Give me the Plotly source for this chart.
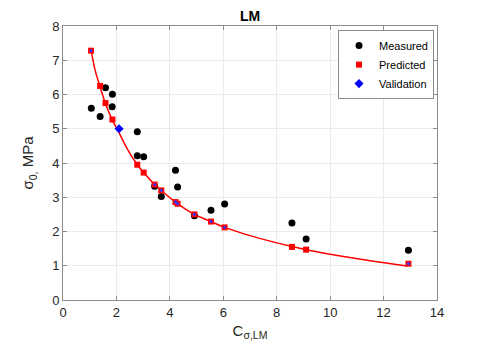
import plotly.graph_objects as go

# values
measured_x = [1.06, 1.39, 1.59, 1.85, 1.84, 2.78, 2.78, 3.02, 3.43, 3.68, 4.21, 4.29, 4.92, 5.54, 6.05, 8.57, 9.10, 12.93]
measured_y = [5.60, 5.36, 6.20, 6.01, 5.64, 4.91, 4.21, 4.18, 3.32, 3.02, 3.79, 3.30, 2.46, 2.62, 2.80, 2.25, 1.78, 1.45]

predicted_x = [1.05, 1.39, 1.59, 1.85, 2.78, 3.02, 3.43, 3.68, 4.21, 4.29, 4.92, 5.54, 6.05, 8.57, 9.10, 12.93]
predicted_y = [7.28, 6.25, 5.75, 5.27, 3.95, 3.72, 3.37, 3.20, 2.86, 2.81, 2.50, 2.29, 2.12, 1.55, 1.47, 1.06]

validation_x = [2.10]
validation_y = [5.00]

# small validation marks sitting inside some predicted squares
val_marks_x = [1.05, 3.43, 3.68, 4.21, 4.29, 4.92, 5.54, 6.05, 12.93]
val_marks_y = [7.28, 3.37, 3.20, 2.86, 2.81, 2.50, 2.29, 2.12, 1.06]

fit_x = [1.05, 1.2, 1.39, 1.59, 1.85, 2.1, 2.4, 2.78, 3.02, 3.43, 3.68, 4.21, 4.92, 5.54, 6.05, 7.0, 8.57, 9.10, 10.5, 12.88]
fit_y = [7.30, 6.72, 6.22, 5.74, 5.25, 4.88, 4.42, 3.95, 3.72, 3.37, 3.20, 2.86, 2.50, 2.29, 2.12, 1.88, 1.56, 1.47, 1.27, 0.99]

FONT = "Liberation Sans, Arial, Helvetica, sans-serif"
AXIS = "#8c8c8c"
TEXT = "#262626"

fig = go.Figure()
fig.add_trace(go.Scatter(x=fit_x, y=fit_y, mode="lines", line=dict(color="#ff0000", width=1.5, shape="spline"),
                         showlegend=False, hoverinfo="skip"))
fig.add_trace(go.Scatter(x=measured_x, y=measured_y, mode="markers", name="Measured",
                         marker=dict(symbol="circle", size=7, color="black")))
fig.add_trace(go.Scatter(x=predicted_x, y=predicted_y, mode="markers", name="Predicted",
                         marker=dict(symbol="square", size=6, color="#ff0000")))
fig.add_trace(go.Scatter(x=validation_x, y=validation_y, mode="markers", name="Validation",
                         marker=dict(symbol="diamond", size=7, color="#0000ff")))
fig.add_trace(go.Scatter(x=val_marks_x, y=val_marks_y, mode="markers", showlegend=False,
                         marker=dict(symbol="diamond", size=3, color="#3030ff")))

axis_style = dict(
    showline=True, linecolor=AXIS, linewidth=1, mirror="ticks",
    ticks="inside", ticklen=4, tickcolor=AXIS,
    showgrid=True, gridcolor="#ebebeb", gridwidth=1, zeroline=False,
    tickfont=dict(family=FONT, size=13, color=TEXT),
    automargin=False,
)

fig.update_xaxes(range=[0, 14], dtick=2, title=dict(text="C<sub>σ,LM</sub>", font=dict(family=FONT, size=15, color=TEXT), standoff=6), **axis_style)
fig.update_yaxes(range=[0, 8], dtick=1, title=dict(text="σ<sub>0,</sub> MPa", font=dict(family=FONT, size=15, color=TEXT), standoff=14), **axis_style)

# the page body adds an 8px offset, so the figure is a little smaller than the window
fig.update_layout(
    width=476, height=338,
    paper_bgcolor="white", plot_bgcolor="white",
    margin=dict(l=55, r=47, t=18, b=46),
    font=dict(family=FONT, color=TEXT),
    title=dict(text="<b>LM</b>", x=0.5, xref="paper", xanchor="center", y=0.976, yanchor="middle",
               font=dict(family=FONT, size=14, color="black")),
    legend=dict(x=0.992, y=0.985, xanchor="right", yanchor="top", bgcolor="white",
                bordercolor=AXIS, borderwidth=1, font=dict(family=FONT, size=11, color="black"),
                tracegroupgap=0, itemwidth=30),
)

fig.write_html("out.html")
